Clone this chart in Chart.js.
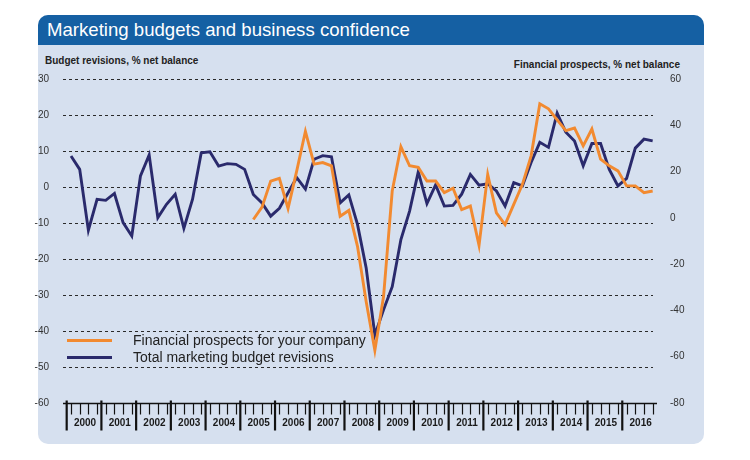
<!DOCTYPE html>
<html>
<head>
<meta charset="utf-8">
<script src="https://cdn.jsdelivr.net/npm/chart.js@4.4.0/dist/chart.umd.min.js"></script>
<style>
  html, body { margin: 0; padding: 0; background: #ffffff; }
  body { width: 750px; height: 460px; position: relative; overflow: hidden; font-family: "Liberation Sans", Arial, sans-serif; }
  .panel { position: absolute; left: 38px; top: 15px; width: 666px; height: 429px; background: #d6e0ef; border-radius: 10px; }
  .titlebar { position: absolute; left: 38px; top: 15px; width: 666px; height: 30px; background: #1560a3; border-radius: 10px 10px 0 0; }
  .title { position: absolute; left: 47px; top: 15px; height: 30px; line-height: 30px; color: #ffffff; font-size: 18.6px; white-space: nowrap; }
  .axtitle { position: absolute; font-size: 10px; font-weight: bold; color: #222; line-height: 12px; white-space: nowrap; }
  .legline { position: absolute; left: 67px; width: 45px; height: 3px; }
  .legtext { position: absolute; left: 133px; font-size: 14px; line-height: 16px; color: #222; white-space: nowrap; }
  canvas { position: absolute; left: 0; top: 0; }
</style>
</head>
<body>
<div class="panel"></div>
<div class="titlebar"></div>
<div class="title">Marketing budgets and business confidence</div>
<div class="axtitle" style="left:45px; top:55px;">Budget revisions, % net balance</div>
<div class="axtitle" style="right:70px; top:59px;">Financial prospects, % net balance</div>
<canvas id="c" width="750" height="460"></canvas>
<div class="legline" style="top:339px; background:#f28a30;"></div>
<div class="legtext" style="top:332px;">Financial prospects for your company</div>
<div class="legline" style="top:356px; background:#2a2a6c;"></div>
<div class="legtext" style="top:349px;">Total marketing budget revisions</div>
<script>
// Tick labels (years), quarterly data 2000 Q1 .. 2016 Q4
const years = [2000, 2001, 2002, 2003, 2004, 2005, 2006, 2007, 2008, 2009, 2010, 2011, 2012, 2013, 2014, 2015, 2016];
const quarters = [1, 2, 3, 4];

// Total marketing budget revisions (left axis, % net balance)
const budgetRevisions = [
  8.6, 4.9, -12.0, -3.4,
  -3.7, -1.8, -9.9, -13.6,
  3.1, 8.9, -8.5, -4.8,
  -2.0, -11.5, -3.4, 9.5,
  9.8, 5.8, 6.5, 6.3,
  4.9, -2.1, -4.4, -8.1,
  -5.9, -1.6, 2.6, -0.6,
  7.7, 8.7, 8.4, -4.4,
  -2.2, -10.4, -22.5, -41.1,
  -34.1, -27.7, -14.6, -6.7,
  4.2, -4.6, 0.6, -5.3,
  -5.1, -2.0, 3.5, 0.5,
  0.9, -1.1, -5.3, 1.2,
  0.3, 6.8, 12.4, 11.0,
  20.5, 15.2, 12.8, 5.9,
  12.1, 12.1, 4.9, 0.3,
  2.4, 10.8, 13.3, 12.8
];

// Financial prospects for your company (right axis, % net balance)
const financialProspects = [
  null, null, null, null,
  null, null, null, null,
  null, null, null, null,
  null, null, null, null,
  null, null, null, null,
  null, -0.7, 4.6, 15.9,
  17.1, 4.1, 20.3, 37.4,
  23.2, 23.9, 22.5, 0.7,
  3.2, -12.3, -36.2, -57.2,
  -34.0, 11.6, 30.7, 22.5,
  21.8, 15.9, 15.9, 10.9,
  12.8, 3.6, 5.1, -11.9,
  18.8, 2.2, -2.9, 5.8,
  14.5, 26.8, 49.3, 47.1,
  42.3, 37.7, 38.8, 31.1,
  38.4, 25.4, 22.5, 20.3,
  13.8, 13.8, 10.9, 11.6
];

const leftTicks = [-60, -50, -40, -30, -20, -10, 0, 10, 20, 30];
const rightTicks = [-80, -60, -40, -20, 0, 20, 40, 60];

const xs = [];
years.forEach(y => quarters.forEach(q => xs.push(y + (q - 0.5) / 4)));

const budgetPts = budgetRevisions.map((v, i) => ({ x: xs[i], y: v }));
const prospectPts = financialProspects.map((v, i) => ({ x: xs[i], y: v }));

const FONT = '"Liberation Sans", Arial, sans-serif';

const customAxes = {
  id: 'customAxes',
  beforeDatasetsDraw(chart) {
    const { ctx, chartArea } = chart;
    const ys = chart.scales.y;
    ctx.save();
    ctx.strokeStyle = '#2a2a2a';
    ctx.lineWidth = 1;
    ctx.setLineDash([3, 3]);
    leftTicks.forEach(v => {
      if (v === ys.min) return;
      const py = Math.round(ys.getPixelForValue(v)) + 0.5;
      ctx.beginPath();
      ctx.moveTo(chartArea.left, py);
      ctx.lineTo(chartArea.right - 4, py);
      ctx.stroke();
    });
    ctx.restore();
  },
  afterDraw(chart) {
    const { ctx, chartArea } = chart;
    const xsScale = chart.scales.x;
    const ys = chart.scales.y;
    const base = Math.round(ys.getPixelForValue(ys.min)) + 0.5;
    ctx.save();
    ctx.strokeStyle = '#111';
    ctx.lineWidth = 1.3;
    ctx.beginPath();
    ctx.moveTo(chartArea.left, base);
    ctx.lineTo(chartArea.right, base);
    ctx.stroke();
    // major ticks at year boundaries
    ctx.lineWidth = 2.2;
    years.forEach(y => {
      const px = xsScale.getPixelForValue(y);
      ctx.beginPath();
      ctx.moveTo(px, base - 3);
      ctx.lineTo(px, base + 27);
      ctx.stroke();
    });
    // minor ticks at each quarter
    ctx.lineWidth = 1.2;
    xs.forEach(x => {
      const px = Math.round(xsScale.getPixelForValue(x)) + 0.5;
      ctx.beginPath();
      ctx.moveTo(px, base);
      ctx.lineTo(px, base + 11);
      ctx.stroke();
    });
    // year labels
    ctx.fillStyle = '#1a1a1a';
    ctx.font = 'bold 10px ' + FONT;
    ctx.textAlign = 'center';
    ctx.textBaseline = 'middle';
    years.forEach(y => {
      ctx.fillText(String(y), xsScale.getPixelForValue(y + 0.5) + 1, base + 20);
    });
    ctx.restore();
  }
};

new Chart(document.getElementById('c'), {
  type: 'line',
  data: {
    datasets: [
      {
        label: 'Financial prospects for your company',
        data: prospectPts,
        yAxisID: 'y1',
        borderColor: '#f28a30',
        borderWidth: 2.9,
        pointRadius: 0,
        tension: 0,
        spanGaps: false
      },
      {
        label: 'Total marketing budget revisions',
        data: budgetPts,
        yAxisID: 'y',
        borderColor: '#2a2a6c',
        borderWidth: 2.9,
        pointRadius: 0,
        tension: 0
      }
    ]
  },
  options: {
    responsive: false,
    animation: false,
    devicePixelRatio: 1,
    layout: { padding: { top: 79, bottom: 57, left: 0, right: 0 } },
    plugins: { legend: { display: false }, tooltip: { enabled: false } },
    scales: {
      x: {
        type: 'linear',
        min: 1999.894,
        max: 2017,
        display: false
      },
      y: {
        position: 'left',
        min: -60,
        max: 30,
        afterBuildTicks: s => { s.ticks = leftTicks.map(v => ({ value: v })); },
        afterFit: s => { s.width = 63; },
        grid: { display: false },
        border: { display: false },
        ticks: { color: '#333', font: { family: FONT, size: 10 }, padding: 6 }
      },
      y1: {
        position: 'right',
        min: -80,
        max: 60,
        afterBuildTicks: s => { s.ticks = rightTicks.map(v => ({ value: v })); },
        afterFit: s => { s.width = 93; },
        grid: { display: false },
        border: { display: false },
        ticks: { color: '#333', font: { family: FONT, size: 10 }, padding: 5 }
      }
    }
  },
  plugins: [customAxes]
});
</script>
</body>
</html>
